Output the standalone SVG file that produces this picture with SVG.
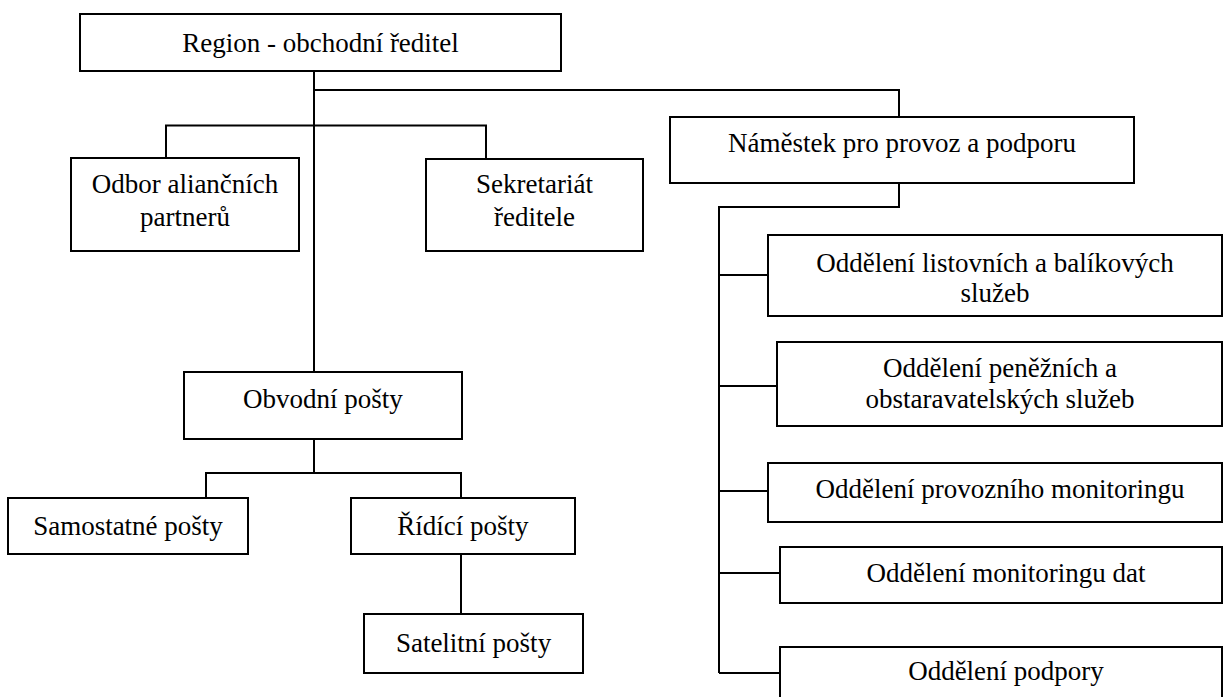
<svg xmlns="http://www.w3.org/2000/svg" width="1224" height="697" viewBox="0 0 1224 697">
<style>
.box{fill:#fff;stroke:#000;stroke-width:2}
.con{fill:none;stroke:#000;stroke-width:2}
text{font-family:"Liberation Serif","Times New Roman",serif;font-size:27px;fill:#000;text-anchor:middle}
</style>
<rect width="1224" height="697" fill="#fff"/>
<g id="connectors">
<path class="con" d="M314 71V372"/>
<path class="con" d="M314 90H899V117"/>
<path class="con" d="M166 158V125.5H486V159"/>
<path class="con" d="M899 183V207H719V673"/>
<path class="con" d="M719 275H768"/>
<path class="con" d="M719 386H777"/>
<path class="con" d="M719 491H768"/>
<path class="con" d="M719 573H780"/>
<path class="con" d="M719 673H780"/>
<path class="con" d="M314 439V473"/>
<path class="con" d="M206 498V473H461V498"/>
<path class="con" d="M461 554V614"/>
</g>
<g id="n-region"><rect class="box" x="80" y="14" width="481" height="57"/><text x="320.5" y="52">Region - obchodní ředitel</text></g>
<g id="n-odbor"><rect class="box" x="71" y="158" width="228" height="93"/><text x="185" y="193">Odbor aliančních</text><text x="185" y="226">partnerů</text></g>
<g id="n-sekretariat"><rect class="box" x="426" y="159" width="217" height="92"/><text x="534.5" y="193">Sekretariát</text><text x="534.5" y="226">ředitele</text></g>
<g id="n-namestek"><rect class="box" x="670" y="117" width="464" height="66"/><text x="902" y="152">Náměstek pro provoz a podporu</text></g>
<g id="n-obvodni"><rect class="box" x="184" y="372" width="278" height="67"/><text x="323" y="408">Obvodní pošty</text></g>
<g id="n-samostatne"><rect class="box" x="8" y="498" width="240" height="56"/><text x="128" y="535">Samostatné pošty</text></g>
<g id="n-ridici"><rect class="box" x="351" y="498" width="224" height="56"/><text x="463" y="535">Řídící pošty</text></g>
<g id="n-satelitni"><rect class="box" x="364" y="614" width="219" height="59"/><text x="473.5" y="652">Satelitní pošty</text></g>
<g id="n-listovni"><rect class="box" x="768" y="235" width="454" height="81"/><text x="995" y="272">Oddělení listovních a balíkových</text><text x="995" y="302">služeb</text></g>
<g id="n-penezni"><rect class="box" x="777" y="342" width="445" height="84"/><text x="1000" y="377">Oddělení peněžních a</text><text x="1000" y="408">obstaravatelských služeb</text></g>
<g id="n-provozni"><rect class="box" x="768" y="463" width="454" height="59"/><text x="1000" y="498">Oddělení provozního monitoringu</text></g>
<g id="n-dat"><rect class="box" x="780" y="547" width="442" height="56"/><text x="1006" y="582">Oddělení monitoringu dat</text></g>
<g id="n-podpory"><rect class="box" x="780" y="647" width="442" height="60"/><text x="1006" y="680">Oddělení podpory</text></g>
</svg>
